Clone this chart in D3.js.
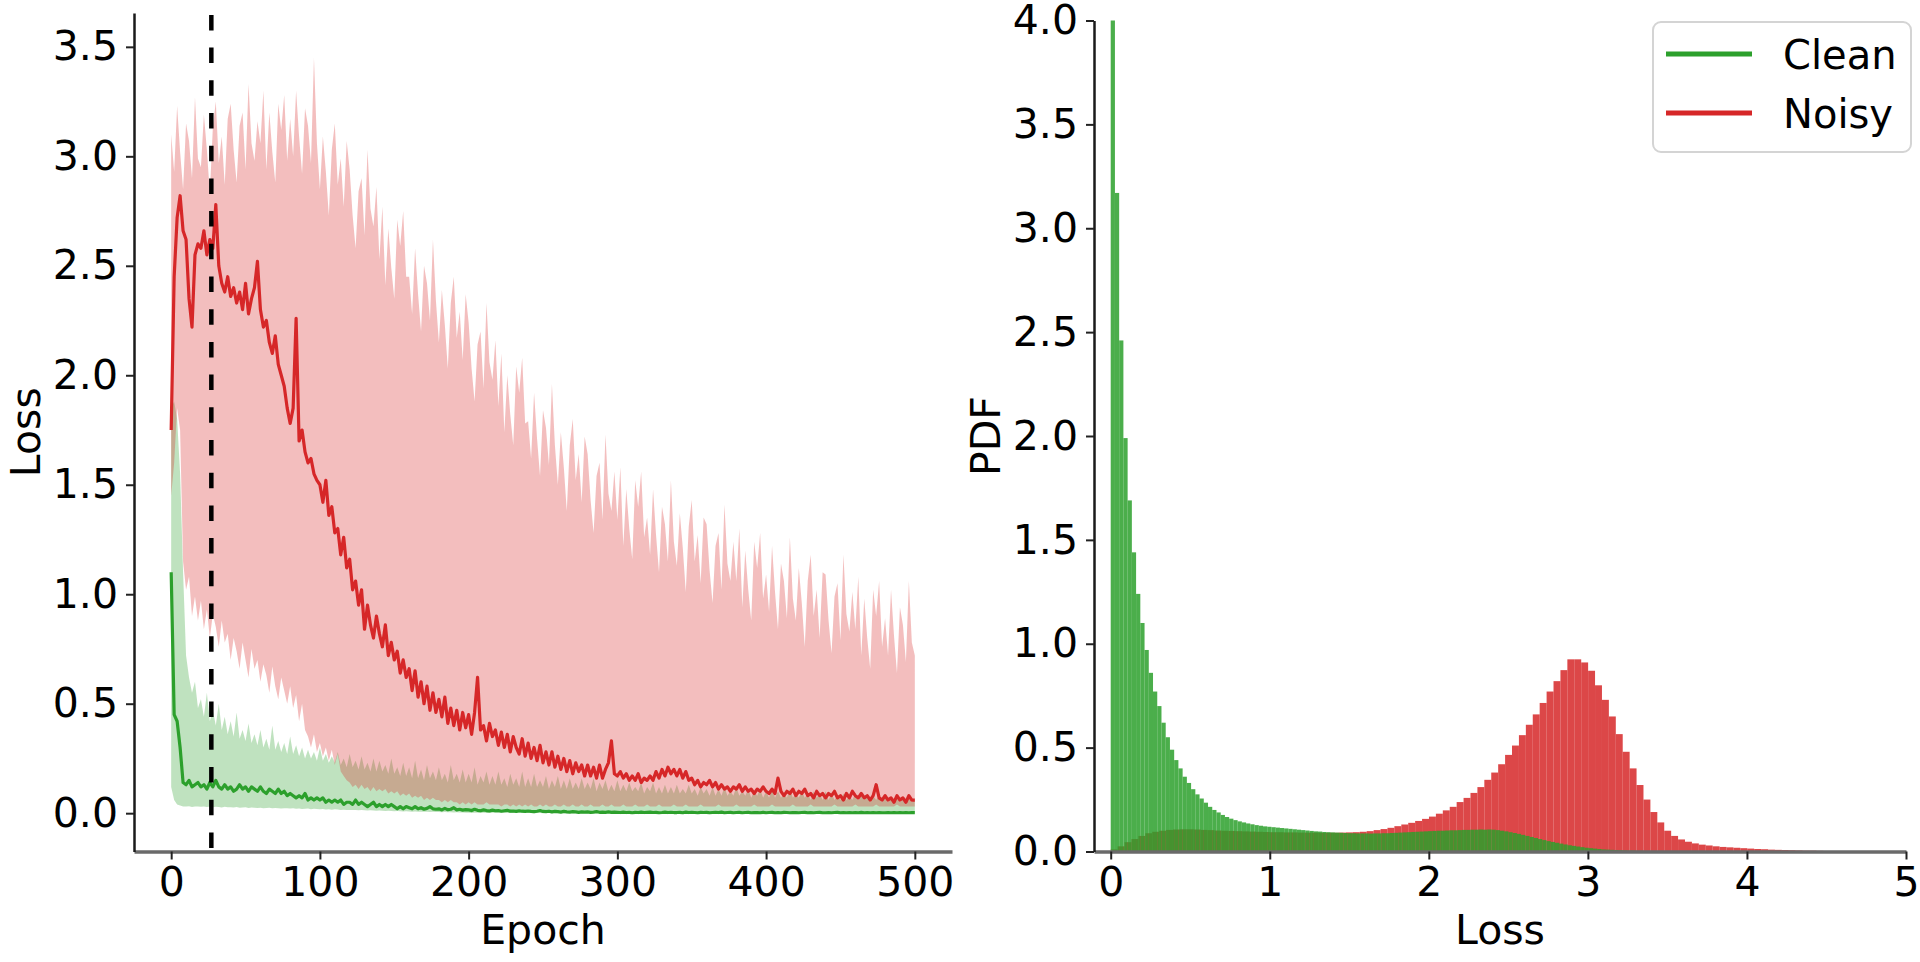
<!DOCTYPE html>
<html>
<head>
<meta charset="utf-8">
<script src="https://cdn.jsdelivr.net/npm/d3@7"></script>
<style>
  body { margin: 0; background: #fff; }
  svg { display: block; font-family: "DejaVu Sans", sans-serif; }
  .tick text { font-size: 41px; fill: #000; }
  .tick line { stroke: #222; stroke-width: 2; }
  .label { font-size: 41px; fill: #000; }
  .legend text { font-size: 40px; fill: #000; }
</style>
</head>
<body>
<svg id="chart" width="1920" height="962"></svg>
<script>
// ---- left panel: loss per epoch, sampled every 2 epochs (0..500) ----
var EPOCH_STEP = 2;
var cutEpoch = 27;

var noisyMean = [
  1.75, 2.45, 2.72, 2.82, 2.66, 2.62, 2.35, 2.22, 2.55, 2.60,
  2.58, 2.66, 2.55, 2.62, 2.58, 2.78, 2.50, 2.42, 2.38, 2.45,
  2.36, 2.40, 2.33, 2.38, 2.30, 2.42, 2.28, 2.35, 2.40, 2.52,
  2.30, 2.22, 2.25, 2.15, 2.10, 2.18, 2.05, 2.00, 1.95, 1.85,
  1.78, 1.85, 2.26, 1.70, 1.75, 1.65, 1.60, 1.62, 1.55, 1.52,
  1.50, 1.42, 1.52, 1.36, 1.40, 1.28, 1.30, 1.18, 1.26, 1.12,
  1.16, 1.02, 1.06, 0.95, 1.02, 0.84, 0.95, 0.86, 0.80, 0.90,
  0.82, 0.76, 0.86, 0.72, 0.78, 0.70, 0.74, 0.64, 0.70, 0.62,
  0.66, 0.56, 0.65, 0.53, 0.60, 0.50, 0.58, 0.47, 0.55, 0.46,
  0.52, 0.44, 0.53, 0.41, 0.48, 0.40, 0.47, 0.38, 0.46, 0.39,
  0.45, 0.36, 0.46, 0.62, 0.38, 0.40, 0.33, 0.41, 0.35, 0.38,
  0.31, 0.37, 0.30, 0.36, 0.28, 0.35, 0.30, 0.27, 0.34, 0.26,
  0.32, 0.25, 0.30, 0.24, 0.31, 0.23, 0.28, 0.22, 0.28, 0.21,
  0.26, 0.20, 0.25, 0.19, 0.24, 0.18, 0.23, 0.19, 0.22, 0.17,
  0.22, 0.17, 0.21, 0.16, 0.22, 0.16, 0.20, 0.23, 0.33, 0.18,
  0.17, 0.19, 0.16, 0.18, 0.15, 0.17, 0.15, 0.18, 0.14, 0.16,
  0.15, 0.17, 0.15, 0.19, 0.16, 0.20, 0.17, 0.21, 0.18, 0.20,
  0.17, 0.20, 0.16, 0.19, 0.15, 0.16, 0.13, 0.15, 0.12, 0.14,
  0.13, 0.15, 0.12, 0.14, 0.11, 0.13, 0.11, 0.12, 0.10, 0.12,
  0.11, 0.13, 0.10, 0.12, 0.10, 0.11, 0.09, 0.11, 0.10, 0.12,
  0.10, 0.09, 0.11, 0.09, 0.16, 0.10, 0.08, 0.10, 0.09, 0.11,
  0.08, 0.10, 0.09, 0.11, 0.08, 0.09, 0.07, 0.10, 0.08, 0.09,
  0.07, 0.09, 0.08, 0.10, 0.07, 0.08, 0.06, 0.09, 0.07, 0.10,
  0.08, 0.07, 0.09, 0.07, 0.08, 0.06, 0.08, 0.13, 0.07, 0.06,
  0.08, 0.06, 0.07, 0.05, 0.08, 0.06, 0.07, 0.05, 0.08, 0.06,
  0.06
];

var noisyUpper = [
  3.10, 2.93, 3.23, 3.02, 2.85, 3.15, 3.07, 2.90, 3.27, 2.99,
  2.95, 3.19, 3.03, 2.83, 3.13, 3.25, 2.97, 3.09, 2.87, 3.17,
  3.24, 3.03, 2.88, 3.14, 3.20, 2.94, 3.33, 3.06, 2.98, 3.16,
  3.06, 3.30, 2.94, 3.20, 3.02, 2.88, 3.24, 3.12, 3.28, 2.98,
  3.17, 3.00, 3.30, 3.09, 2.92, 3.22, 3.14, 2.97, 3.45, 3.06,
  2.85, 3.09, 2.93, 2.73, 3.03, 3.15, 2.87, 2.99, 2.77, 3.07,
  2.94, 2.73, 2.58, 2.84, 2.90, 2.64, 3.03, 2.76, 2.68, 2.86,
  2.53, 2.77, 2.41, 2.67, 2.49, 2.35, 2.71, 2.59, 2.75, 2.45,
  2.45, 2.28, 2.58, 2.37, 2.20, 2.50, 2.42, 2.25, 2.62, 2.34,
  2.15, 2.39, 2.23, 2.03, 2.33, 2.45, 2.17, 2.29, 2.07, 2.37,
  2.24, 2.03, 1.88, 2.14, 2.20, 1.94, 2.33, 2.06, 1.98, 2.16,
  1.86, 2.10, 1.74, 2.00, 1.82, 1.68, 2.04, 1.92, 2.08, 1.78,
  1.79, 1.62, 1.92, 1.71, 1.54, 1.84, 1.76, 1.59, 1.96, 1.68,
  1.50, 1.74, 1.58, 1.38, 1.68, 1.80, 1.52, 1.64, 1.42, 1.72,
  1.64, 1.43, 1.28, 1.54, 1.60, 1.34, 1.73, 1.46, 1.38, 1.56,
  1.34, 1.58, 1.22, 1.48, 1.30, 1.16, 1.52, 1.40, 1.56, 1.26,
  1.35, 1.18, 1.48, 1.27, 1.10, 1.40, 1.32, 1.15, 1.52, 1.24,
  1.13, 1.37, 1.21, 1.01, 1.31, 1.43, 1.15, 1.27, 1.05, 1.35,
  1.32, 1.11, 0.96, 1.22, 1.28, 1.02, 1.41, 1.14, 1.06, 1.24,
  1.06, 1.30, 0.94, 1.20, 1.02, 0.88, 1.24, 1.12, 1.28, 0.98,
  1.09, 0.92, 1.22, 1.01, 0.84, 1.14, 1.06, 0.89, 1.26, 0.98,
  0.88, 1.12, 0.96, 0.76, 1.06, 1.18, 0.90, 1.02, 0.80, 1.10,
  1.09, 0.88, 0.73, 0.99, 1.05, 0.79, 1.18, 0.91, 0.83, 1.01,
  0.84, 1.08, 0.72, 0.98, 0.80, 0.66, 1.02, 0.90, 1.06, 0.76,
  0.89, 0.72, 1.02, 0.81, 0.64, 0.94, 0.86, 0.69, 1.06, 0.78,
  0.72
];

var noisyLower = [
  1.45, 1.60, 1.85, 1.75, 1.15, 1.02, 1.08, 0.90, 0.99, 0.88,
  0.97, 0.84, 0.93, 0.80, 0.91, 0.85, 0.76, 0.88, 0.78, 0.82,
  0.70, 0.80, 0.74, 0.66, 0.78, 0.70, 0.62, 0.75, 0.66, 0.70,
  0.60, 0.68, 0.63, 0.55, 0.67, 0.58, 0.52, 0.62, 0.56, 0.50,
  0.58, 0.48, 0.54, 0.42, 0.50, 0.38, 0.35, 0.30, 0.36, 0.28,
  0.32, 0.26, 0.30, 0.24, 0.29, 0.22, 0.27, 0.19, 0.17, 0.15,
  0.14, 0.12, 0.13, 0.11, 0.13, 0.11, 0.12, 0.10, 0.12, 0.10,
  0.11, 0.10, 0.11, 0.09, 0.10, 0.09, 0.10, 0.08, 0.09, 0.08,
  0.09, 0.07, 0.08, 0.07, 0.08, 0.06, 0.07, 0.06, 0.07, 0.06,
  0.06, 0.05, 0.06, 0.05, 0.06, 0.05, 0.05, 0.04, 0.05, 0.04,
  0.05, 0.04, 0.05, 0.04, 0.04, 0.04, 0.05, 0.04, 0.04, 0.04,
  0.04, 0.03, 0.04, 0.04, 0.03, 0.04, 0.03, 0.04, 0.03, 0.04,
  0.03, 0.04, 0.03, 0.03, 0.04, 0.03, 0.04, 0.03, 0.03, 0.04,
  0.03, 0.03, 0.04, 0.03, 0.03, 0.04, 0.03, 0.03, 0.04, 0.03,
  0.03, 0.04, 0.03, 0.03, 0.03, 0.04, 0.03, 0.03, 0.04, 0.03,
  0.03, 0.03, 0.04, 0.03, 0.03, 0.03, 0.04, 0.03, 0.03, 0.03,
  0.04, 0.03, 0.03, 0.03, 0.04, 0.03, 0.03, 0.03, 0.03, 0.04,
  0.03, 0.03, 0.03, 0.04, 0.03, 0.03, 0.03, 0.03, 0.04, 0.03,
  0.03, 0.03, 0.03, 0.03, 0.04, 0.03, 0.03, 0.03, 0.03, 0.03,
  0.04, 0.03, 0.03, 0.03, 0.03, 0.03, 0.04, 0.03, 0.03, 0.03,
  0.03, 0.03, 0.04, 0.03, 0.03, 0.03, 0.03, 0.03, 0.03, 0.04,
  0.03, 0.03, 0.03, 0.03, 0.03, 0.04, 0.03, 0.03, 0.03, 0.03,
  0.03, 0.03, 0.03, 0.04, 0.03, 0.03, 0.03, 0.03, 0.03, 0.03,
  0.04, 0.03, 0.03, 0.03, 0.03, 0.03, 0.03, 0.04, 0.03, 0.03,
  0.03, 0.03, 0.03, 0.03, 0.04, 0.03, 0.03, 0.03, 0.03, 0.03,
  0.03
];

var cleanMean = [
  1.10, 0.45, 0.42, 0.30, 0.14, 0.13, 0.15, 0.12, 0.13, 0.14,
  0.12, 0.13, 0.11, 0.14, 0.12, 0.15, 0.12, 0.11, 0.13, 0.11,
  0.12, 0.10, 0.11, 0.13, 0.11, 0.12, 0.10, 0.12, 0.11, 0.10,
  0.12, 0.10, 0.09, 0.11, 0.10, 0.09, 0.11, 0.09, 0.10, 0.08,
  0.09, 0.08, 0.07, 0.08, 0.07, 0.09, 0.06, 0.07, 0.06, 0.07,
  0.06, 0.07, 0.05, 0.06, 0.05, 0.06, 0.05, 0.06, 0.04, 0.05,
  0.05, 0.04, 0.06, 0.04, 0.05, 0.04, 0.03, 0.04, 0.05, 0.03,
  0.04, 0.03, 0.04, 0.03, 0.04, 0.03, 0.02, 0.03, 0.02, 0.03,
  0.025, 0.020, 0.030, 0.020, 0.025, 0.018, 0.022, 0.030, 0.020, 0.018,
  0.020, 0.015, 0.022, 0.016, 0.018, 0.025, 0.015, 0.018, 0.014, 0.016,
  0.015, 0.012, 0.018, 0.013, 0.011, 0.015, 0.012, 0.010, 0.014, 0.011,
  0.012, 0.009, 0.011, 0.013, 0.009, 0.010, 0.008, 0.011, 0.009, 0.008,
  0.010, 0.008, 0.007, 0.009, 0.012, 0.008, 0.007, 0.009, 0.006, 0.008,
  0.007, 0.005, 0.008, 0.006, 0.005, 0.007, 0.006, 0.004, 0.006, 0.005,
  0.006, 0.004, 0.005, 0.007, 0.004, 0.005, 0.004, 0.006, 0.004, 0.005,
  0.004, 0.003, 0.005, 0.003, 0.004, 0.002, 0.004, 0.003, 0.005, 0.003,
  0.004, 0.005, 0.003, 0.004, 0.002, 0.003, 0.005, 0.003, 0.004, 0.003,
  0.003, 0.004, 0.002, 0.005, 0.003, 0.004, 0.003, 0.002, 0.004, 0.003,
  0.004, 0.002, 0.003, 0.004, 0.003, 0.005, 0.002, 0.003, 0.004, 0.002,
  0.003, 0.004, 0.002, 0.003, 0.004, 0.002, 0.003, 0.003, 0.002, 0.004,
  0.002, 0.003, 0.004, 0.002, 0.003, 0.002, 0.004, 0.003, 0.002, 0.003,
  0.003, 0.002, 0.003, 0.004, 0.002, 0.003, 0.002, 0.003, 0.004, 0.002,
  0.002, 0.003, 0.002, 0.003, 0.004, 0.002, 0.003, 0.002, 0.003, 0.002,
  0.003, 0.002, 0.004, 0.002, 0.003, 0.002, 0.003, 0.002, 0.003, 0.002,
  0.002, 0.003, 0.002, 0.003, 0.002, 0.003, 0.002, 0.003, 0.002, 0.003,
  0.003
];

var cleanUpper = [
  1.85, 1.88, 1.80, 1.55, 1.10, 0.72, 0.62, 0.55, 0.60, 0.48,
  0.52, 0.44, 0.55, 0.42, 0.47, 0.40, 0.50, 0.38, 0.44, 0.36,
  0.42, 0.35, 0.46, 0.34, 0.38, 0.33, 0.41, 0.32, 0.36, 0.31,
  0.38, 0.30, 0.34, 0.29, 0.40, 0.29, 0.33, 0.28, 0.32, 0.27,
  0.35, 0.27, 0.31, 0.26, 0.30, 0.25, 0.29, 0.25, 0.28, 0.24,
  0.30, 0.24, 0.27, 0.23, 0.26, 0.23, 0.28, 0.22, 0.25, 0.21,
  0.27, 0.21, 0.24, 0.20, 0.26, 0.20, 0.23, 0.19, 0.25, 0.19,
  0.24, 0.19, 0.22, 0.18, 0.25, 0.18, 0.21, 0.17, 0.23, 0.17,
  0.21, 0.16, 0.24, 0.16, 0.20, 0.15, 0.22, 0.16, 0.19, 0.15,
  0.21, 0.15, 0.18, 0.14, 0.22, 0.15, 0.18, 0.14, 0.20, 0.14,
  0.18, 0.14, 0.21, 0.13, 0.17, 0.14, 0.19, 0.13, 0.17, 0.13,
  0.19, 0.13, 0.16, 0.12, 0.18, 0.13, 0.16, 0.12, 0.19, 0.12,
  0.16, 0.12, 0.18, 0.12, 0.15, 0.12, 0.17, 0.11, 0.15, 0.12,
  0.17, 0.11, 0.15, 0.11, 0.16, 0.11, 0.14, 0.11, 0.16, 0.11,
  0.14, 0.11, 0.16, 0.10, 0.14, 0.11, 0.15, 0.10, 0.13, 0.10,
  0.15, 0.10, 0.13, 0.10, 0.14, 0.10, 0.12, 0.10, 0.14, 0.09,
  0.12, 0.10, 0.14, 0.09, 0.12, 0.09, 0.13, 0.09, 0.12, 0.09,
  0.13, 0.09, 0.11, 0.09, 0.13, 0.09, 0.11, 0.08, 0.12, 0.09,
  0.11, 0.08, 0.12, 0.08, 0.11, 0.08, 0.12, 0.08, 0.10, 0.08,
  0.12, 0.08, 0.10, 0.08, 0.11, 0.07, 0.10, 0.08, 0.11, 0.07,
  0.10, 0.07, 0.11, 0.07, 0.10, 0.07, 0.09, 0.07, 0.11, 0.07,
  0.09, 0.07, 0.10, 0.07, 0.09, 0.06, 0.10, 0.07, 0.09, 0.06,
  0.10, 0.06, 0.09, 0.06, 0.08, 0.06, 0.09, 0.06, 0.08, 0.06,
  0.09, 0.06, 0.08, 0.06, 0.09, 0.05, 0.08, 0.06, 0.08, 0.05,
  0.08, 0.05, 0.07, 0.05, 0.08, 0.05, 0.07, 0.05, 0.07, 0.05,
  0.06
];

var cleanLower = [
  0.12, 0.06, 0.04, 0.035, 0.030, 0.030, 0.032, 0.028, 0.030, 0.031,
  0.029, 0.030, 0.028, 0.031, 0.027, 0.029, 0.028, 0.026, 0.029, 0.027,
  0.027, 0.026, 0.028, 0.025, 0.026, 0.027, 0.024, 0.026, 0.025, 0.024,
  0.025, 0.023, 0.024, 0.025, 0.022, 0.024, 0.023, 0.021, 0.023, 0.022,
  0.021, 0.022, 0.020, 0.021, 0.019, 0.020, 0.021, 0.018, 0.020, 0.019,
  0.018, 0.019, 0.017, 0.018, 0.016, 0.018, 0.017, 0.015, 0.016, 0.015,
  0.015, 0.014, 0.015, 0.013, 0.014, 0.013, 0.012, 0.013, 0.012, 0.011,
  0.012, 0.011, 0.010, 0.011, 0.010, 0.009, 0.010, 0.009, 0.008, 0.009,
  0.008, 0.007, 0.008, 0.007, 0.006, 0.007, 0.006, 0.005, 0.006, 0.005,
  0.005, 0.004, 0.005, 0.004, 0.004, 0.003, 0.004, 0.003, 0.003, 0.002,
  0.002, 0.001, 0.002, 0.002, 0.001, 0.002, 0.001, 0.001, 0.002, 0.001,
  0.001, 0.002, 0.001, 0.001, 0.001, 0.002, 0.001, 0.001, 0.001, 0.001,
  0.001, 0.001, 0.000, 0.001, 0.001, 0.000, 0.001, 0.001, 0.000, 0.001,
  0.000, 0.001, 0.000, 0.000, 0.001, 0.000, 0.000, 0.001, 0.000, 0.000,
  0.000, 0.000, 0.001, 0.000, 0.000, 0.000, 0.000, 0.001, 0.000, 0.000,
  0.000, 0.000, 0.000, 0.000, 0.000, 0.000, 0.000, 0.000, 0.000, 0.000,
  0.000, 0.000, 0.000, 0.000, 0.000, 0.000, 0.000, 0.000, 0.000, 0.000,
  0.000, 0.000, 0.000, 0.000, 0.000, 0.000, 0.000, 0.000, 0.000, 0.000,
  0.000, 0.000, 0.000, 0.000, 0.000, 0.000, 0.000, 0.000, 0.000, 0.000,
  0.000, 0.000, 0.000, 0.000, 0.000, 0.000, 0.000, 0.000, 0.000, 0.000,
  0.000, 0.000, 0.000, 0.000, 0.000, 0.000, 0.000, 0.000, 0.000, 0.000,
  0.000, 0.000, 0.000, 0.000, 0.000, 0.000, 0.000, 0.000, 0.000, 0.000,
  0.000, 0.000, 0.000, 0.000, 0.000, 0.000, 0.000, 0.000, 0.000, 0.000,
  0.000, 0.000, 0.000, 0.000, 0.000, 0.000, 0.000, 0.000, 0.000, 0.000,
  0.000, 0.000, 0.000, 0.000, 0.000, 0.000, 0.000, 0.000, 0.000, 0.000,
  0.000
];

var epochTicks = [0, 100, 200, 300, 400, 500];
var lossTicks = [0, 0.5, 1, 1.5, 2, 2.5, 3, 3.5];

// ---- right panel: loss histograms (density) ----
var CLEAN_BIN = 0.0266;
var NOISY_BIN = 0.0435;

var cleanDensity = [
  4.60, 3.17, 2.46, 1.99, 1.69, 1.44, 1.24, 1.10, 0.97, 0.86,
  0.77, 0.70, 0.62, 0.55, 0.49, 0.44, 0.40, 0.36, 0.33, 0.30,
  0.275, 0.255, 0.235, 0.215, 0.200, 0.188, 0.176, 0.166, 0.158, 0.151,
  0.145, 0.140, 0.135, 0.131, 0.127, 0.124, 0.121, 0.119, 0.117, 0.115,
  0.113, 0.111, 0.109, 0.107, 0.105, 0.103, 0.101, 0.099, 0.097, 0.096,
  0.094, 0.093, 0.092, 0.091, 0.090, 0.089, 0.088, 0.088, 0.087, 0.087,
  0.087, 0.086, 0.087, 0.087, 0.088, 0.088, 0.089, 0.090, 0.091, 0.092,
  0.093, 0.094, 0.095, 0.096, 0.097, 0.098, 0.099, 0.100, 0.100, 0.101,
  0.102, 0.102, 0.103, 0.104, 0.104, 0.105, 0.105, 0.106, 0.105, 0.106,
  0.105, 0.103, 0.100, 0.097, 0.093, 0.089, 0.085, 0.080, 0.075, 0.070,
  0.065, 0.060, 0.055, 0.050, 0.046, 0.042, 0.038, 0.034, 0.030, 0.027,
  0.024, 0.021, 0.018, 0.016, 0.014, 0.012, 0.010, 0.009, 0.008, 0.007,
  0.006, 0.005, 0.004, 0.004, 0.003, 0.003, 0.002, 0.002, 0.002, 0.001,
  0.001, 0.001
];

var noisyDensity = [
  0.010, 0.025, 0.045, 0.060, 0.075, 0.088, 0.095, 0.100, 0.104, 0.106,
  0.107, 0.107, 0.106, 0.104, 0.103, 0.101, 0.100, 0.099, 0.098, 0.097,
  0.096, 0.095, 0.094, 0.093, 0.093, 0.092, 0.092, 0.091, 0.091, 0.091,
  0.090, 0.090, 0.090, 0.091, 0.092, 0.093, 0.095, 0.098, 0.103, 0.108,
  0.114, 0.122, 0.130, 0.138, 0.147, 0.157, 0.168, 0.182, 0.198, 0.215,
  0.238, 0.258, 0.282, 0.310, 0.345, 0.380, 0.420, 0.465, 0.510, 0.560,
  0.610, 0.660, 0.715, 0.770, 0.820, 0.873, 0.925, 0.925, 0.910, 0.870,
  0.800, 0.730, 0.650, 0.565, 0.480, 0.400, 0.320, 0.250, 0.190, 0.140,
  0.100, 0.075, 0.058, 0.047, 0.039, 0.033, 0.029, 0.025, 0.022, 0.020,
  0.018, 0.016, 0.014, 0.012, 0.011, 0.009, 0.008, 0.007, 0.006, 0.005,
  0.004, 0.004, 0.003, 0.002, 0.002, 0.001
];

var pdfTicks = [0, 0.5, 1, 1.5, 2, 2.5, 3, 3.5, 4];
var binTicks = [0, 1, 2, 3, 4, 5];

var legendItems = ["Clean", "Noisy"];

var GREEN = "#2ca02c",
    RED = "#d62728";

var svg = d3.select("#chart");

var leftBox = {x0: 134, x1: 952, y0: 851.5, y1: 12.9},
    rightBox = {x0: 1094, x1: 1906, y0: 851.5, y1: 20.5};

var xEpoch = d3.scaleLinear().domain([-25, 525]).range([leftBox.x0, leftBox.x1]);
var yLoss = d3.scaleLinear().domain([-0.175, 3.655]).range([leftBox.y0, leftBox.y1]);
var xLoss = d3.scaleLinear().domain([-0.105, 5]).range([rightBox.x0, rightBox.x1]);
var yPdf = d3.scaleLinear().domain([0, 4]).range([rightBox.y0, rightBox.y1]);

var defs = svg.append("defs");
defs.append("clipPath").attr("id", "clipL").append("rect")
    .attr("x", leftBox.x0).attr("y", leftBox.y1)
    .attr("width", leftBox.x1 - leftBox.x0).attr("height", leftBox.y0 - leftBox.y1);
defs.append("clipPath").attr("id", "clipR").append("rect")
    .attr("x", rightBox.x0).attr("y", rightBox.y1)
    .attr("width", rightBox.x1 - rightBox.x0).attr("height", rightBox.y0 - rightBox.y1);

// ---------- left panel ----------
var epochs = noisyMean.map(function(d, i) { return i * EPOCH_STEP; });

function band(lo, hi) {
    return d3.area()
        .x(function(d, i) { return xEpoch(epochs[i]); })
        .y0(function(d, i) { return yLoss(lo[i]); })
        .y1(function(d, i) { return yLoss(hi[i]); });
}
var meanLine = d3.line()
    .x(function(d, i) { return xEpoch(epochs[i]); })
    .y(function(d) { return yLoss(d); });

var plotL = svg.append("g").attr("clip-path", "url(#clipL)");

plotL.append("path")
    .attr("d", band(cleanLower, cleanUpper)(epochs))
    .attr("fill", GREEN).attr("fill-opacity", 0.3);

plotL.append("path")
    .attr("d", band(noisyLower, noisyUpper)(epochs))
    .attr("fill", RED).attr("fill-opacity", 0.3);

plotL.append("path")
    .attr("d", meanLine(cleanMean))
    .attr("fill", "none").attr("stroke", GREEN)
    .attr("stroke-width", 3.2).attr("stroke-linejoin", "round");

plotL.append("path")
    .attr("d", meanLine(noisyMean))
    .attr("fill", "none").attr("stroke", RED)
    .attr("stroke-width", 3.2).attr("stroke-linejoin", "round");

plotL.append("line")
    .attr("x1", xEpoch(cutEpoch)).attr("x2", xEpoch(cutEpoch))
    .attr("y1", yLoss.range()[0]).attr("y2", yLoss.range()[1])
    .attr("stroke", "#000").attr("stroke-width", 4.5)
    .attr("stroke-dasharray", "15.5,17.2").attr("stroke-dashoffset", -3.6);

var axL_x = svg.append("g")
    .attr("transform", "translate(0," + leftBox.y0 + ")")
    .call(d3.axisBottom(xEpoch).tickValues(epochTicks).tickFormat(d3.format("d"))
        .tickSize(8).tickPadding(7).tickSizeOuter(0));
var axL_y = svg.append("g")
    .attr("transform", "translate(" + leftBox.x0 + ",0)")
    .call(d3.axisLeft(yLoss).tickValues(lossTicks).tickFormat(d3.format(".1f"))
        .tickSize(8).tickPadding(8).tickSizeOuter(0));

// ---------- right panel ----------
var plotR = svg.append("g").attr("clip-path", "url(#clipR)");

function drawHist(values, binWidth, color) {
    plotR.append("g").selectAll("rect")
        .data(values)
        .enter().append("rect")
        .attr("x", function(d, i) { return xLoss(i * binWidth); })
        .attr("width", function(d, i) { return xLoss((i + 1) * binWidth) - xLoss(i * binWidth); })
        .attr("y", function(d) { return yPdf(d); })
        .attr("height", function(d) { return yPdf(0) - yPdf(d); })
        .attr("fill", color).attr("fill-opacity", 0.85);
}
drawHist(noisyDensity, NOISY_BIN, RED);
drawHist(cleanDensity, CLEAN_BIN, GREEN);

var axR_x = svg.append("g")
    .attr("transform", "translate(0," + rightBox.y0 + ")")
    .call(d3.axisBottom(xLoss).tickValues(binTicks).tickFormat(d3.format("d"))
        .tickSize(8).tickPadding(7).tickSizeOuter(0));
var axR_y = svg.append("g")
    .attr("transform", "translate(" + rightBox.x0 + ",0)")
    .call(d3.axisLeft(yPdf).tickValues(pdfTicks).tickFormat(d3.format(".1f"))
        .tickSize(8).tickPadding(8).tickSizeOuter(0));

// spines
[axL_x, axR_x].forEach(function(g) {
    g.select(".domain").attr("stroke", "#6a6a6a").attr("stroke-width", 3.5);
});
[axL_y, axR_y].forEach(function(g) {
    g.select(".domain").attr("stroke", "#1a1a1a").attr("stroke-width", 2.5);
});
svg.selectAll(".tick text").attr("font-family", "DejaVu Sans");

// axis labels
svg.append("text").attr("class", "label")
    .attr("x", (leftBox.x0 + leftBox.x1) / 2).attr("y", 944)
    .attr("text-anchor", "middle").text("Epoch");
svg.append("text").attr("class", "label")
    .attr("transform", "translate(40," + (leftBox.y0 + leftBox.y1) / 2 + ") rotate(-90)")
    .attr("text-anchor", "middle").text("Loss");
svg.append("text").attr("class", "label")
    .attr("x", (rightBox.x0 + rightBox.x1) / 2).attr("y", 944)
    .attr("text-anchor", "middle").text("Loss");
svg.append("text").attr("class", "label")
    .attr("transform", "translate(1000," + (rightBox.y0 + rightBox.y1) / 2 + ") rotate(-90)")
    .attr("text-anchor", "middle").text("PDF");

// legend
var legend = svg.append("g").attr("class", "legend").attr("transform", "translate(1653,22)");
legend.append("rect")
    .attr("width", 258).attr("height", 130).attr("rx", 8)
    .attr("fill", "#fff").attr("fill-opacity", 0.8)
    .attr("stroke", "#d4d4d4").attr("stroke-width", 2);
legend.selectAll("g.item")
    .data(legendItems)
    .enter().append("g").attr("class", "item")
    .attr("transform", function(d, i) { return "translate(0," + (32 + i * 59) + ")"; })
    .each(function(d, i) {
        var g = d3.select(this);
        g.append("line").attr("x1", 13).attr("x2", 99)
            .attr("stroke", i === 0 ? GREEN : RED).attr("stroke-width", 5);
        g.append("text").attr("x", 130).attr("y", 15).text(d);
    });
</script>
</body>
</html>
